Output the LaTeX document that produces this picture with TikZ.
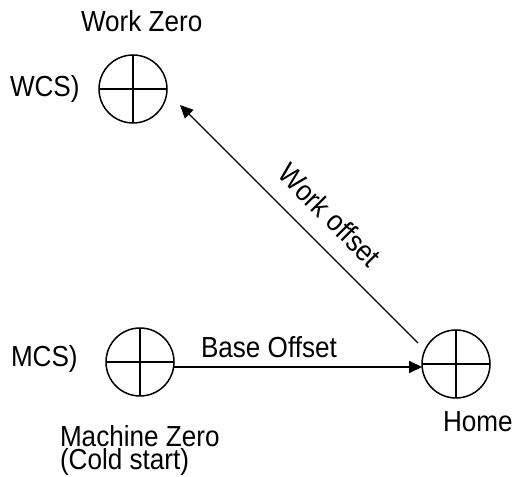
\documentclass[tikz,border=0pt]{standalone}
\usepackage{fontspec}
\setmainfont[FakeStretch=0.9]{Liberation Sans}
\usetikzlibrary{arrows.meta}
\begin{document}
\begin{tikzpicture}[x=1pt,y=1pt,
  zero/.style={circle, draw, line width=1.5pt, minimum size=68pt, inner sep=0pt, outer sep=0pt,
    path picture={\draw[line width=1.5pt] (path picture bounding box.north) -- (path picture bounding box.south)
      (path picture bounding box.east) -- (path picture bounding box.west);}},
  lbl/.style={inner sep=0pt, outer sep=0pt, font=\fontsize{29}{23}\selectfont},
  tip/.style={-{Triangle[length=13pt,width=12pt]}}]
\useasboundingbox (0,0) rectangle (516,476);
\node[zero] (wz) at (133,387) {};
\node[zero] (mz) at (140,114) {};
\node[zero] (home) at (456,112) {};
\node[lbl, anchor=base west] (wzl) at (81,444) {Work Zero};
\node[lbl, anchor=base west] (wcs) at (10,379) {WCS)};
\node[lbl, anchor=base west] (mcs) at (11,109) {MCS)};
\node[lbl, anchor=base west, align=left] (mzl) at (60,6) {Machine Zero\\(Cold start)};
\node[lbl, anchor=base west] (hl) at (443,44) {Home};
\node[lbl, anchor=base west] (bo) at (201,118) {Base Offset};
\coordinate (bs) at ([yshift=-5pt]mz.east);
\coordinate (be) at ([shift={(0,-3pt)}]home.west);
\coordinate (ws) at ([shift={(-38pt,21pt)}]home.center);
\coordinate (we) at ([shift={(47pt,-16pt)}]wz.center);
\draw[tip, line width=2pt] (bs) -- (be);
\draw[tip, line width=1.1pt] (ws) -- (we);
\node[lbl, rotate=-45] (wo) at (330,261) {Work offset};
\end{tikzpicture}
\end{document}
